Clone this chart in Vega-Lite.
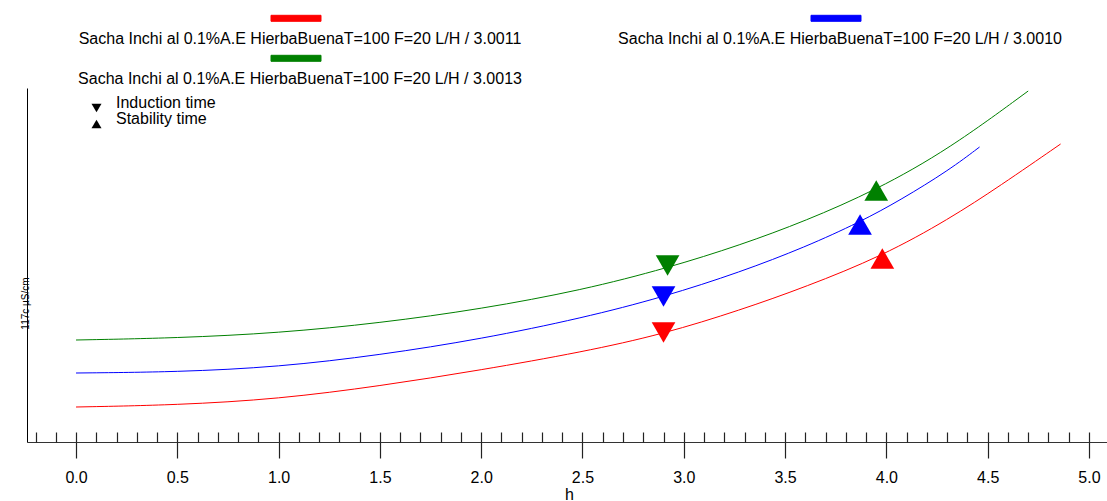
{
  "$schema": "https://vega.github.io/schema/vega-lite/v6.json",
  "width": 1080,
  "height": 354,
  "autosize": "none",
  "padding": {"left": 27, "top": 88, "right": 0, "bottom": 59},
  "background": "white",
  "config": {"view": {"stroke": null}, "font": "Liberation Sans"},
  "datasets": {
    "curves": [
      {"series": "Sacha Inchi al 0.1%A.E HierbaBuenaT=100 F=20 L/H  / 3.0011", "h": 0.0, "v": 35},
      {"series": "Sacha Inchi al 0.1%A.E HierbaBuenaT=100 F=20 L/H  / 3.0011", "h": 0.5, "v": 37},
      {"series": "Sacha Inchi al 0.1%A.E HierbaBuenaT=100 F=20 L/H  / 3.0011", "h": 1.0, "v": 43},
      {"series": "Sacha Inchi al 0.1%A.E HierbaBuenaT=100 F=20 L/H  / 3.0011", "h": 1.5, "v": 56},
      {"series": "Sacha Inchi al 0.1%A.E HierbaBuenaT=100 F=20 L/H  / 3.0011", "h": 2.0, "v": 72},
      {"series": "Sacha Inchi al 0.1%A.E HierbaBuenaT=100 F=20 L/H  / 3.0011", "h": 2.5, "v": 90},
      {"series": "Sacha Inchi al 0.1%A.E HierbaBuenaT=100 F=20 L/H  / 3.0011", "h": 2.9, "v": 108},
      {"series": "Sacha Inchi al 0.1%A.E HierbaBuenaT=100 F=20 L/H  / 3.0011", "h": 3.28, "v": 132},
      {"series": "Sacha Inchi al 0.1%A.E HierbaBuenaT=100 F=20 L/H  / 3.0011", "h": 3.6, "v": 155},
      {"series": "Sacha Inchi al 0.1%A.E HierbaBuenaT=100 F=20 L/H  / 3.0011", "h": 3.98, "v": 186},
      {"series": "Sacha Inchi al 0.1%A.E HierbaBuenaT=100 F=20 L/H  / 3.0011", "h": 4.31, "v": 223},
      {"series": "Sacha Inchi al 0.1%A.E HierbaBuenaT=100 F=20 L/H  / 3.0011", "h": 4.56, "v": 256},
      {"series": "Sacha Inchi al 0.1%A.E HierbaBuenaT=100 F=20 L/H  / 3.0011", "h": 4.86, "v": 298},
      {"series": "Sacha Inchi al 0.1%A.E HierbaBuenaT=100 F=20 L/H  / 3.0010", "h": 0.0, "v": 69},
      {"series": "Sacha Inchi al 0.1%A.E HierbaBuenaT=100 F=20 L/H  / 3.0010", "h": 0.5, "v": 70},
      {"series": "Sacha Inchi al 0.1%A.E HierbaBuenaT=100 F=20 L/H  / 3.0010", "h": 1.0, "v": 75},
      {"series": "Sacha Inchi al 0.1%A.E HierbaBuenaT=100 F=20 L/H  / 3.0010", "h": 1.5, "v": 87},
      {"series": "Sacha Inchi al 0.1%A.E HierbaBuenaT=100 F=20 L/H  / 3.0010", "h": 2.0, "v": 103},
      {"series": "Sacha Inchi al 0.1%A.E HierbaBuenaT=100 F=20 L/H  / 3.0010", "h": 2.5, "v": 124},
      {"series": "Sacha Inchi al 0.1%A.E HierbaBuenaT=100 F=20 L/H  / 3.0010", "h": 2.9, "v": 145},
      {"series": "Sacha Inchi al 0.1%A.E HierbaBuenaT=100 F=20 L/H  / 3.0010", "h": 3.28, "v": 170},
      {"series": "Sacha Inchi al 0.1%A.E HierbaBuenaT=100 F=20 L/H  / 3.0010", "h": 3.6, "v": 195},
      {"series": "Sacha Inchi al 0.1%A.E HierbaBuenaT=100 F=20 L/H  / 3.0010", "h": 3.87, "v": 220},
      {"series": "Sacha Inchi al 0.1%A.E HierbaBuenaT=100 F=20 L/H  / 3.0010", "h": 4.07, "v": 242},
      {"series": "Sacha Inchi al 0.1%A.E HierbaBuenaT=100 F=20 L/H  / 3.0010", "h": 4.31, "v": 272},
      {"series": "Sacha Inchi al 0.1%A.E HierbaBuenaT=100 F=20 L/H  / 3.0010", "h": 4.46, "v": 295},
      {"series": "Sacha Inchi al 0.1%A.E HierbaBuenaT=100 F=20 L/H  / 3.0013", "h": 0.0, "v": 102},
      {"series": "Sacha Inchi al 0.1%A.E HierbaBuenaT=100 F=20 L/H  / 3.0013", "h": 0.5, "v": 104},
      {"series": "Sacha Inchi al 0.1%A.E HierbaBuenaT=100 F=20 L/H  / 3.0013", "h": 1.0, "v": 109},
      {"series": "Sacha Inchi al 0.1%A.E HierbaBuenaT=100 F=20 L/H  / 3.0013", "h": 1.5, "v": 119},
      {"series": "Sacha Inchi al 0.1%A.E HierbaBuenaT=100 F=20 L/H  / 3.0013", "h": 2.0, "v": 133},
      {"series": "Sacha Inchi al 0.1%A.E HierbaBuenaT=100 F=20 L/H  / 3.0013", "h": 2.5, "v": 152},
      {"series": "Sacha Inchi al 0.1%A.E HierbaBuenaT=100 F=20 L/H  / 3.0013", "h": 2.92, "v": 174},
      {"series": "Sacha Inchi al 0.1%A.E HierbaBuenaT=100 F=20 L/H  / 3.0013", "h": 3.28, "v": 197},
      {"series": "Sacha Inchi al 0.1%A.E HierbaBuenaT=100 F=20 L/H  / 3.0013", "h": 3.6, "v": 221},
      {"series": "Sacha Inchi al 0.1%A.E HierbaBuenaT=100 F=20 L/H  / 3.0013", "h": 3.95, "v": 252},
      {"series": "Sacha Inchi al 0.1%A.E HierbaBuenaT=100 F=20 L/H  / 3.0013", "h": 4.31, "v": 293},
      {"series": "Sacha Inchi al 0.1%A.E HierbaBuenaT=100 F=20 L/H  / 3.0013", "h": 4.7, "v": 351}
    ],
    "markers": [
      {"series": "Sacha Inchi al 0.1%A.E HierbaBuenaT=100 F=20 L/H  / 3.0011", "type": "Induction time", "h": 2.9, "v": 109.5},
      {"series": "Sacha Inchi al 0.1%A.E HierbaBuenaT=100 F=20 L/H  / 3.0010", "type": "Induction time", "h": 2.9, "v": 145.5},
      {"series": "Sacha Inchi al 0.1%A.E HierbaBuenaT=100 F=20 L/H  / 3.0013", "type": "Induction time", "h": 2.92, "v": 176.5},
      {"series": "Sacha Inchi al 0.1%A.E HierbaBuenaT=100 F=20 L/H  / 3.0011", "type": "Stability time", "h": 3.98, "v": 183.5},
      {"series": "Sacha Inchi al 0.1%A.E HierbaBuenaT=100 F=20 L/H  / 3.0010", "type": "Stability time", "h": 3.87, "v": 217.5},
      {"series": "Sacha Inchi al 0.1%A.E HierbaBuenaT=100 F=20 L/H  / 3.0013", "type": "Stability time", "h": 3.95, "v": 251.5}
    ]
  },
  "resolve": {"axis": {"x": "independent"}},
  "layer": [
    {
      "mark": {"type": "rule", "color": "#555555", "strokeWidth": 1},
      "encoding": {"y": {"datum": 354, "type": "quantitative", "scale": {"domain": [0, 354], "nice": false, "zero": false}}}
    },
    {
      "data": {"name": "curves"},
      "mark": {"type": "line", "strokeWidth": 1, "interpolate": "basis"},
      "encoding": {
        "x": {
          "field": "h", "type": "quantitative",
          "scale": {"domain": [-0.242, 5.089], "nice": false, "zero": false},
          "axis": {
            "orient": "bottom",
            "values": [0, 0.5, 1, 1.5, 2, 2.5, 3, 3.5, 4, 4.5, 5],
            "format": ".1f", "tickSize": 16, "tickColor": "#222222", "tickWidth": 1.2,
            "domain": true, "domainColor": "#333333", "domainWidth": 1,
            "labelFontSize": 16, "labelFont": "Liberation Sans", "labelColor": "#000000",
            "labelPadding": 11, "labelFlush": false, "labelOverlap": false, "grid": false,
            "title": "h", "titleFontSize": 16, "titleFont": "Liberation Sans", "titleFontWeight": "normal", "titleColor": "#000000",
            "titleX": 542, "titleY": 57, "titleAlign": "center", "titleBaseline": "alphabetic"
          }
        },
        "y": {
          "field": "v", "type": "quantitative",
          "scale": {"domain": [0, 354], "nice": false, "zero": false},
          "axis": {
            "ticks": false, "labels": false, "grid": false, "domain": true, "domainColor": "#000000", "domainWidth": 1,
            "title": "117c µS/cm", "titleFontSize": 10, "titleFont": "Liberation Sans", "titleFontWeight": "normal", "titleColor": "#000000",
            "titleAngle": 270, "titleX": -2, "titleY": 215, "titleAlign": "center", "titleBaseline": "middle"
          }
        },
        "color": {
          "field": "series", "type": "nominal",
          "scale": {
            "domain": ["Sacha Inchi al 0.1%A.E HierbaBuenaT=100 F=20 L/H  / 3.0011", "Sacha Inchi al 0.1%A.E HierbaBuenaT=100 F=20 L/H  / 3.0010", "Sacha Inchi al 0.1%A.E HierbaBuenaT=100 F=20 L/H  / 3.0013"],
            "range": ["#ff0000", "#0000ff", "#008000"]
          },
          "legend": {
            "orient": "none", "legendX": 261, "legendY": -56.7,
            "columns": 2, "direction": "horizontal", "title": null,
            "symbolType": "M-5,-4.8H5V-3.6H-5Z", "symbolSize": 100,
            "symbolStrokeColor": "#000000", "symbolStrokeWidth": 1,
            "labelFontSize": 16, "labelFont": "Liberation Sans", "labelColor": "#000000",
            "labelAlign": "center", "labelBaseline": "middle", "labelOffset": -4, "labelLimit": 700,
            "columnPadding": 90, "rowPadding": 6
          }
        }
      }
    },
    {
      "data": {"name": "markers"},
      "mark": {"type": "point", "filled": true, "size": 560, "opacity": 1},
      "encoding": {
        "x": {
          "field": "h", "type": "quantitative",
          "axis": {
            "orient": "bottom",
            "values": [-0.2, -0.1, 0, 0.1, 0.2, 0.3, 0.4, 0.5, 0.6, 0.7, 0.8, 0.9, 1, 1.1, 1.2, 1.3, 1.4, 1.5, 1.6, 1.7, 1.8, 1.9, 2, 2.1, 2.2, 2.3, 2.4, 2.5, 2.6, 2.7, 2.8, 2.9, 3, 3.1, 3.2, 3.3, 3.4, 3.5, 3.6, 3.7, 3.8, 3.9, 4, 4.1, 4.2, 4.3, 4.4, 4.5, 4.6, 4.7, 4.8, 4.9, 5],
            "tickSize": -10, "tickColor": "#222222", "tickWidth": 1.2,
            "labels": false, "domain": false, "grid": false, "title": null
          }
        },
        "y": {
          "field": "v", "type": "quantitative",
          "axis": {
            "ticks": false, "labels": false, "grid": false, "domain": true, "domainColor": "#000000", "domainWidth": 1,
            "title": "117c µS/cm", "titleFontSize": 10, "titleFont": "Liberation Sans", "titleFontWeight": "normal", "titleColor": "#000000",
            "titleAngle": 270, "titleX": -2, "titleY": 215, "titleAlign": "center", "titleBaseline": "middle"
          }
        },
        "color": {
          "field": "series", "type": "nominal",
          "legend": {
            "orient": "none", "legendX": 261, "legendY": -56.7,
            "columns": 2, "direction": "horizontal", "title": null,
            "symbolType": "M-5,-4.8H5V-3.6H-5Z", "symbolSize": 100,
            "symbolStrokeColor": "#000000", "symbolStrokeWidth": 1,
            "labelFontSize": 16, "labelFont": "Liberation Sans", "labelColor": "#000000",
            "labelAlign": "center", "labelBaseline": "middle", "labelOffset": -4, "labelLimit": 700,
            "columnPadding": 90, "rowPadding": 6
          }
        },
        "shape": {
          "field": "type", "type": "nominal",
          "scale": {"domain": ["Induction time", "Stability time"], "range": ["triangle-down", "triangle-up"]},
          "legend": {
            "orient": "none", "legendX": 61.5, "legendY": 12, "title": null,
            "symbolSize": 100, "symbolFillColor": "#000000", "symbolStrokeColor": "#000000", "symbolStrokeWidth": 0,
            "labelFontSize": 16, "labelFont": "Liberation Sans", "labelColor": "#000000",
            "labelBaseline": "alphabetic", "labelOffset": 11.5, "rowPadding": -2
          }
        }
      }
    }
  ]
}
